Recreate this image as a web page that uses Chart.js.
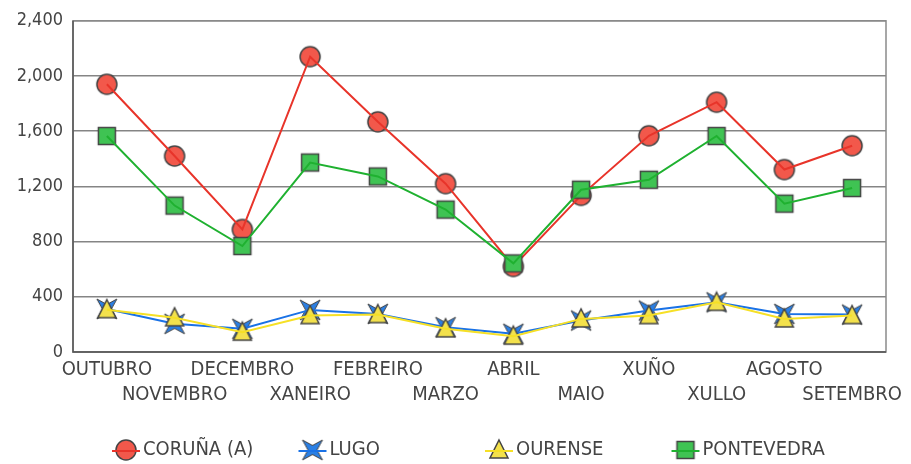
<!DOCTYPE html>
<html>
<head>
<meta charset="utf-8">
<script src="https://cdn.jsdelivr.net/npm/chart.js@4/dist/chart.umd.min.js"></script>
<style>
  html, body { margin: 0; padding: 0; background: #fff; }
  #wrap { width: 911px; height: 464px; position: relative; }
</style>
</head>
<body>
<div id="wrap"><canvas id="chart" width="911" height="464"></canvas></div>
<script>
// months (Galician), staggered on two rows like the original
const months = ['OUTUBRO', 'NOVEMBRO', 'DECEMBRO', 'XANEIRO', 'FEBREIRO', 'MARZO', 'ABRIL', 'MAIO', 'XUÑO', 'XULLO', 'AGOSTO', 'SETEMBRO'];
const seriesNames = ['CORUÑA (A)', 'LUGO', 'OURENSE', 'PONTEVEDRA'];
const coruna = [1940, 1420, 888, 2140, 1668, 1220, 620, 1135, 1567, 1810, 1322, 1495];
const lugo = [312, 204, 168, 305, 276, 180, 132, 228, 300, 360, 276, 271];
const ourense = [307, 248, 144, 264, 271, 168, 115, 240, 264, 360, 240, 264];
const pontevedra = [1565, 1061, 768, 1373, 1272, 1032, 642, 1176, 1248, 1565, 1075, 1188];
const yTicks = [0, 400, 800, 1200, 1600, 2000, 2400];

const FONT = "'Liberation Sans Narrow', 'DejaVu Sans Condensed', 'Liberation Sans', sans-serif";
const lineColors = ['#e8342a', '#1a72e6', '#f6e026', '#1fb130'];
const fillColors = ['#f2584b', '#2a7fe4', '#f3e14c', '#3fc353'];
const edge = '#444';

// marker images
function marker(kind, fill) {
    const c = document.createElement('canvas');
    const s = 24; c.width = s; c.height = s;
    const g = c.getContext('2d');
    g.fillStyle = fill; g.strokeStyle = edge; g.lineWidth = 1.5;
    g.beginPath();
    const m = s / 2;
    if (kind === 'circle') {
        g.arc(m, m, 10, 0, Math.PI * 2);
    } else if (kind === 'square') {
        g.rect(m - 8.5, m - 8.5, 17, 17);
    } else if (kind === 'triangle') {
        g.moveTo(m, m - 10); g.lineTo(m + 9, m + 8); g.lineTo(m - 9, m + 8); g.closePath();
    } else if (kind === 'star') {
        const r = 10, k = 4.5;
        g.lineWidth = 1;
        g.moveTo(m - r, m - r); g.lineTo(m, m - k); g.lineTo(m + r, m - r); g.lineTo(m + k, m);
        g.lineTo(m + r, m + r); g.lineTo(m, m + k); g.lineTo(m - r, m + r); g.lineTo(m - k, m); g.closePath();
    }
    g.fill(); g.stroke();
    return c;
}
const markers = [marker('circle', fillColors[0]), marker('star', fillColors[1]), marker('triangle', fillColors[2]), marker('square', fillColors[3])];

const labels = months.map((m, i) => i % 2 === 0 ? [m, ''] : ['', m]);

// plot frame + custom legend with evenly spaced items
const framePlugin = {
    id: 'frame',
    beforeDatasetsDraw(chart) {
        const { ctx, chartArea: a } = chart;
        ctx.save();
        ctx.strokeStyle = '#8a8a8a'; ctx.lineWidth = 1.5;
        ctx.strokeRect(a.left, a.top, a.right - a.left, a.bottom - a.top);
        ctx.strokeStyle = '#555';
        ctx.beginPath(); ctx.moveTo(a.left, a.top); ctx.lineTo(a.left, a.bottom); ctx.lineTo(a.right, a.bottom); ctx.stroke();
        ctx.restore();
    },
    afterDraw(chart) {
        const { ctx } = chart;
        ctx.save();
        ctx.font = '20px ' + FONT;
        ctx.textBaseline = 'middle';
        ctx.fillStyle = '#444';
        const y = 450, x0 = 112, step = 186.5;
        seriesNames.forEach((n, i) => {
            const x = x0 + i * step;
            ctx.drawImage(markers[i], x + 14 - 12, y - 12);
            ctx.strokeStyle = lineColors[i]; ctx.lineWidth = 2;
            ctx.beginPath(); ctx.moveTo(x, y + 1); ctx.lineTo(x + 28, y + 1); ctx.stroke();
            ctx.fillText(n, x + 31, y);
        });
        ctx.restore();
    }
};

// each series: markers, then its own line drawn on top of them (later series above earlier ones)
const series = [coruna, lugo, ourense, pontevedra];
const datasets = [];
series.forEach((d, i) => {
    datasets.push({
        label: seriesNames[i],
        data: d,
        borderColor: lineColors[i],
        backgroundColor: fillColors[i],
        showLine: false,
        pointStyle: markers[i],
        pointRadius: 10,
        order: 10 - i * 2
    });
    datasets.push({
        label: seriesNames[i] + ' line',
        data: d,
        borderColor: lineColors[i],
        borderWidth: 2,
        pointRadius: 0,
        tension: 0,
        order: 9 - i * 2
    });
});

new Chart(document.getElementById('chart'), {
    type: 'line',
    data: { labels, datasets },
    plugins: [framePlugin],
    options: {
        responsive: false,
        animation: false,
        layout: { padding: { top: 18, right: 25, left: 0, bottom: 0 } },
        plugins: { legend: { display: false }, tooltip: { enabled: false } },
        scales: {
            x: {
                offset: true,
                grid: { display: false, drawTicks: false },
                border: { display: false },
                ticks: {
                    autoSkip: false, maxRotation: 0, minRotation: 0,
                    color: '#444', padding: 5,
                    font: { family: FONT, size: 20, lineHeight: 1.25 }
                },
                afterFit(s) { s.height = 112; }
            },
            y: {
                min: 0, max: 2400,
                afterBuildTicks(s) { s.ticks = yTicks.map(v => ({ value: v })); },
                grid: { color: '#858585', lineWidth: 1.5, drawTicks: false },
                border: { display: false },
                ticks: {
                    color: '#444', padding: 10,
                    font: { family: FONT, size: 18 },
                    callback: v => v.toLocaleString('en-US')
                },
                afterFit(s) { s.width = 73; }
            }
        }
    }
});
</script>
</body>
</html>
